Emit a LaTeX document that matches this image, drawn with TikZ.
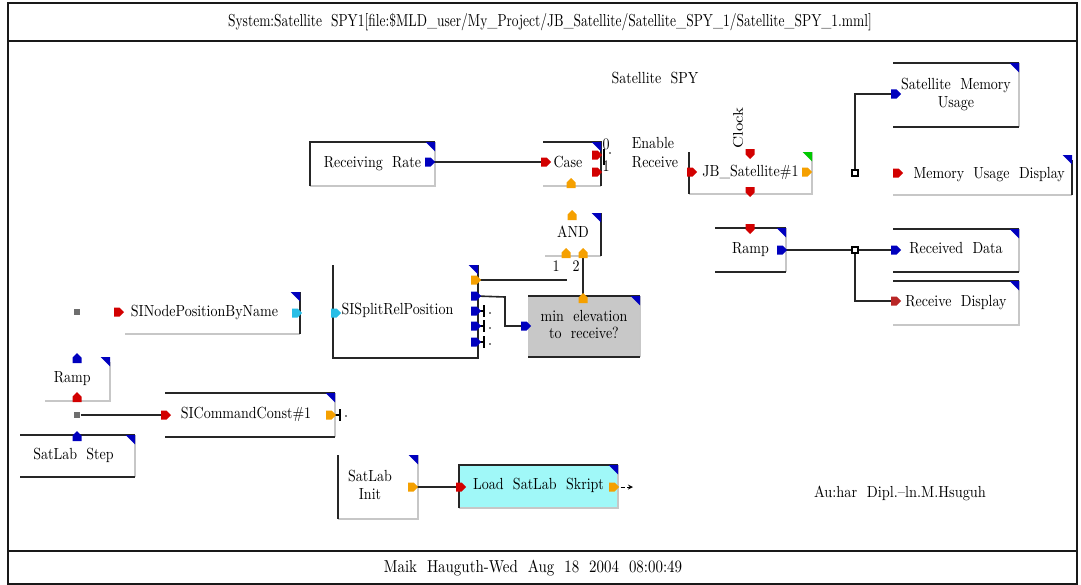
\documentclass[tikz,border=0pt]{standalone}
\usepackage{graphicx}
\usetikzlibrary{calc}
\definecolor{pred}{RGB}{210,0,0}
\definecolor{pblue}{RGB}{0,0,190}
\definecolor{porange}{RGB}{245,160,0}
\definecolor{pcyan}{RGB}{40,190,230}
\definecolor{pgreen}{RGB}{0,200,0}
\definecolor{boxgray}{RGB}{200,200,200}
\definecolor{boxcyan}{RGB}{160,248,248}
\definecolor{pgrey}{RGB}{110,110,110}
\newcommand\corner[2]{\fill[#2] ([xshift=-7pt]#1.north east) -- (#1.north east) -- ([yshift=-7pt]#1.north east) -- cycle;}
\newcommand\port[3]{\fill[#3, shift={(#1)}, rotate=#2] (-5,-4.5) -- (0.5,-4.5) -- (5,0) -- (0.5,4.5) -- (-5,4.5) -- cycle;}
\newcommand\T[1]{\scalebox{1}[1.15]{\fontsize{10.5}{11.2}\selectfont\begin{tabular}{@{}c@{}}#1\end{tabular}}}
\begin{document}
\begin{tikzpicture}[x=0.75pt,y=-0.75pt,
 blk/.style={inner sep=0pt, outer sep=0pt, align=center, font=\fontsize{10.5}{13}\selectfont},
 box/.style n args={2}{minimum width=#1*0.75pt, minimum height=#2*0.75pt},
 lbl/.style={inner sep=0pt, font=\fontsize{10}{13}\selectfont, align=center},
 bedge/.style={line width=1.6pt, black!85},
 sedge/.style={line width=1.6pt, black!22},
 wire/.style={line width=1.2pt, black!85},
 frame/.style={line width=1pt, black!90},
 jct/.style={draw, line width=0.8pt, fill=white, minimum size=4.5pt, inner sep=0pt},
 gsq/.style={fill=pgrey, minimum size=5pt, inner sep=0pt},
]
\useasboundingbox (0,0) rectangle (1081,585);
% frame
\draw[frame] (8,3) rectangle (1077,584);
\draw[frame] (8,41) -- (1077,41);
\draw[frame] (8,551) -- (1077,551);
\node[lbl] (hdr) at (550,22) {\scalebox{1.01}[1.3]{System:Satellite\ \ SPY1[file:\$MLD\_user/My\_Project/JB\_Satellite/Satellite\_SPY\_1/Satellite\_SPY\_1.mml]}};
\node[lbl] (ftr) at (533,568) {\scalebox{1.12}[1.3]{Maik\ \ Hauguth-Wed\ \ Aug\ \ 18\ \ 2004\ \ 08:00:49}};
\node[lbl] (auth) at (900,493) {\scalebox{1.08}[1.2]{Au:har\ \ Dipl.--ln.M.Hsuguh}};
\node[lbl] (title) at (655,80) {\T{Satellite\ \ SPY}};

% blocks
\node[blk, box={125}{44}] (rr) at (372.5,164) {\T{Receiving\ \ Rate}};
\node[blk, box={58}{44}] (case) at (572,164) {\hspace*{-6pt}\T{Case}};
\node[blk, box={123}{42}] (jb) at (750.5,173) {\T{JB\_Satellite\#1}};
\node[blk, box={126}{64}] (smu) at (956,95) {\T{Satellite\ \ Memory\\Usage}};
\node[blk, box={179}{40}] (mud) at (982.5,175) {\hspace*{10pt}\T{Memory\ \ Usage\ \ Display}};
\node[blk, box={71}{44}] (ramp2) at (750.5,250) {\T{Ramp}};
\node[blk, box={126}{43}] (rd) at (956,250.5) {\T{Received\ \ Data}};
\node[blk, box={126}{44}] (rdisp) at (956,303) {\T{Receive\ \ Display}};
\node[blk, box={56}{43}] (and) at (573,234.5) {\T{AND}};
\node[blk, box={145}{93}] (split) at (405.5,311.5) {\hspace*{-12pt}\T{SISplitRelPosition}};
\node[blk, box={112}{61}, fill=boxgray] (minel) at (584,326.5) {\T{min\ \ elevation\\to\ \ receive?}};
\node[blk, box={175}{42}] (sin) at (212.5,313) {\hspace*{-12pt}\T{SINodePositionByName}};
\node[blk, box={65}{44}] (ramp1) at (77.5,379) {\hspace*{-8pt}\T{Ramp}};
\node[blk, box={170}{44}] (cmd) at (250,415) {\hspace*{-6pt}\T{SICommandConst\#1}};
\node[blk, box={115}{42}] (step) at (77.5,456) {\hspace*{-6pt}\T{SatLab\ \ Step}};
\node[blk, box={80}{64}] (init) at (378,487) {\hspace*{-12pt}\T{SatLab\\Init}};
\node[blk, box={159}{43}, fill=boxcyan] (load) at (538.5,486.5) {\T{Load\ \ SatLab\ \ Skript}};

% labels
\node[lbl] (en) at (653,145) {\T{Enable}};
\node[lbl] (rcv) at (655,164) {\T{Receive}};
\node[lbl, rotate=90] (clk) at (738,128) {\scalebox{1.2}[1]{\fontsize{10.5}{12}\selectfont Clock}};
\node[lbl] (c0) at (606,146) {\T{0}};
\node[lbl] (c1) at (606,168) {\T{1}};
\node[lbl] (a1) at (556,268) {\T{1}};
\node[lbl] (a2) at (576,268) {\T{2}};

% block edges: shadows
\draw[sedge] (rr.south west) -- (rr.south east) -- (rr.north east);
\draw[sedge] (case.south west) -- (case.south east);
\draw[sedge] (jb.south west) -- (jb.south east) -- (jb.north east);
\draw[sedge] (smu.north east) -- (smu.south east);
\draw[sedge] (mud.south west) -- (mud.south east);
\draw[sedge] (ramp2.north east) -- (ramp2.south east);
\draw[sedge] (rd.north east) -- (rd.south east);
\draw[sedge] (rdisp.south west) -- (rdisp.south east) -- (rdisp.north east);
\draw[sedge] (and.south west) -- (and.south east);
\draw[sedge] (minel.north east) -- (minel.south east);
\draw[sedge] (sin.south west) -- (sin.south east);
\draw[sedge] (ramp1.south west) -- (ramp1.south east) -- ([yshift=-4pt]ramp1.north east);
\draw[sedge] (cmd.north east) -- (cmd.south east);
\draw[sedge] (step.north east) -- (step.south east);
\draw[sedge] (init.south west) -- (init.south east) -- (init.north east);
\draw[sedge] (load.south west) -- (load.south east) -- (load.north east);
% block edges: black
\draw[bedge] (rr.south west) -- (rr.north west) -- (rr.north east);
\draw[bedge] (case.north west) -- (case.north east) -- (case.south east);
\draw[bedge] (jb.north west) -- (jb.south west);
\draw[bedge] (smu.north west) -- (smu.north east);
\draw[bedge] (smu.south west) -- (smu.south east);
\draw[bedge] ([yshift=-4pt]mud.north east) -- (mud.south east);
\draw[bedge] (ramp2.north west) -- (ramp2.north east);
\draw[bedge] (ramp2.south west) -- (ramp2.south east);
\draw[bedge] (rd.north west) -- (rd.north east);
\draw[bedge] (rd.south west) -- (rd.south east);
\draw[bedge] (rdisp.north west) -- (rdisp.north east);
\draw[bedge] (and.north east) -- (and.south east);
\draw[bedge] (split.north west) -- (split.south west) -- (split.south east) -- (split.north east);
\draw[bedge] (minel.north west) -- (minel.north east);
\draw[bedge] (minel.south west) -- (minel.south east);
\draw[bedge] (sin.north east) -- (sin.south east);
\draw[bedge] (cmd.north west) -- (cmd.north east);
\draw[bedge] (cmd.south west) -- (cmd.south east);
\draw[bedge] (step.north west) -- (step.north east);
\draw[bedge] (step.south west) -- (step.south east);
\draw[bedge] (init.north west) -- (init.south west);
\draw[bedge] (load.south west) -- (load.north west) -- (load.north east);

% corners
\corner{rr}{pblue}
\corner{case}{pblue}
\corner{jb}{pgreen}
\corner{smu}{pblue}
\corner{mud}{pblue}
\corner{ramp2}{pblue}
\corner{rd}{pblue}
\corner{rdisp}{pblue}
\corner{and}{pblue}
\corner{split}{pblue}
\corner{minel}{pblue}
\corner{sin}{pblue}
\corner{ramp1}{pblue}
\corner{cmd}{pblue}
\corner{step}{pblue}
\corner{init}{pblue}
\corner{load}{pblue}

% port coordinates
\coordinate (rr-o) at (430,162);
\coordinate (case-i) at (546,162);
\coordinate (case-b) at (571,183);
\coordinate (case-o0) at (597,155);
\coordinate (case-o1) at (597,172);
\coordinate (jb-i) at (692,172);
\coordinate (jb-c) at (750,154);
\coordinate (jb-b) at (750,192);
\coordinate (jb-o) at (807,172);
\coordinate (smu-i) at (896,94);
\coordinate (mud-i) at (898,173);
\coordinate (ramp2-t) at (750,229);
\coordinate (ramp2-o) at (782,250);
\coordinate (rd-i) at (896,250);
\coordinate (rdisp-i) at (896,301);
\coordinate (and-t) at (572,215);
\coordinate (and-1) at (566,253);
\coordinate (and-2) at (583,253);
\coordinate (split-i) at (336,313);
\coordinate (split-o1) at (476,280);
\coordinate (split-o2) at (476,296);
\coordinate (split-o3) at (476,311);
\coordinate (split-o4) at (476,326);
\coordinate (split-o5) at (476,342);
\coordinate (minel-t) at (583,298);
\coordinate (minel-i) at (526,326);
\coordinate (sin-i) at (119,312);
\coordinate (sin-o) at (297,313);
\coordinate (ramp1-t) at (77,358);
\coordinate (ramp1-b) at (77,397);
\coordinate (cmd-i) at (166,415);
\coordinate (cmd-o) at (331,415);
\coordinate (step-t) at (77,436);
\coordinate (init-o) at (413,487);
\coordinate (load-i) at (461,487);
\coordinate (load-o) at (614,487);
\coordinate (andfree) at (567,280);
\coordinate (sbend) at (505,297);
\coordinate (loadend) at (633,487);

% junctions and loose squares
\node[jct] (j1) at (855,173) {};
\node[jct] (j2) at (855,250) {};
\node[gsq] (g1) at (77,312) {};
\node[gsq] (g2) at (77,415) {};

% wires
\draw[wire] (rr-o) -- (case-i);
\draw[wire] (j1) |- (smu-i);
\draw[wire] (ramp2-o) -- (j2) -- (rd-i);
\draw[wire] (j2) |- (rdisp-i);
\draw[wire] (split-o1) -- (andfree);
\draw[wire] (and-2) -- (minel-t);
\draw[wire] (split-o2) -- (sbend) |- (minel-i);
\draw[wire] (g2) -- (cmd-i);
\draw[wire] (init-o) -- (load-i);
\draw[line width=0.7pt, densely dashed, -stealth] (load-o) -- (loadend);
\node[jct] at (j1) {};
\node[jct] at (j2) {};

% small stubs
\foreach \p in {split-o3,split-o4,split-o5}{
  \draw[line width=0.9pt] (\p) -- ++(8,0);
  \draw[line width=0.9pt] ($(\p)+(8,-6)$) -- ($(\p)+(8,6)$);
  \fill ($(\p)+(14,2)$) circle (0.6pt);
}
\draw[line width=0.9pt] (cmd-o) -- ++(9,0);
\draw[line width=0.9pt] ($(cmd-o)+(9,-6)$) -- ($(cmd-o)+(9,6)$);
\fill ($(cmd-o)+(15,1)$) circle (0.6pt);
\draw[line width=0.9pt] ($(case-o0)+(7,-6)$) -- ($(case-o0)+(7,10)$);
\fill ($(case-o0)+(13,-2)$) circle (0.6pt);

% ports
\port{rr-o}{0}{pblue}
\port{case-i}{0}{pred}
\port{case-b}{90}{porange}
\port{case-o0}{0}{pred}
\port{case-o1}{0}{pred}
\port{jb-i}{0}{pred}
\port{jb-c}{-90}{pred}
\port{jb-b}{-90}{pred}
\port{jb-o}{0}{porange}
\port{smu-i}{0}{pblue}
\port{mud-i}{0}{pred}
\port{ramp2-t}{-90}{pred}
\port{ramp2-o}{0}{pblue}
\port{rd-i}{0}{pblue}
\port{rdisp-i}{0}{pred!70!gray}
\port{and-t}{90}{porange}
\port{and-1}{90}{porange}
\port{and-2}{90}{porange}
\port{split-i}{0}{pcyan}
\port{split-o1}{0}{porange}
\port{split-o2}{0}{pblue}
\port{split-o3}{0}{pblue}
\port{split-o4}{0}{pblue}
\port{split-o5}{0}{pblue}
\port{minel-t}{90}{porange}
\port{minel-i}{0}{pblue}
\port{sin-i}{0}{pred}
\port{sin-o}{0}{pcyan}
\port{ramp1-t}{90}{pblue}
\port{ramp1-b}{90}{pred}
\port{cmd-i}{0}{pred}
\port{cmd-o}{0}{porange}
\port{step-t}{90}{pblue}
\port{init-o}{0}{porange}
\port{load-i}{0}{pred}
\port{load-o}{0}{porange}
\end{tikzpicture}
\end{document}
